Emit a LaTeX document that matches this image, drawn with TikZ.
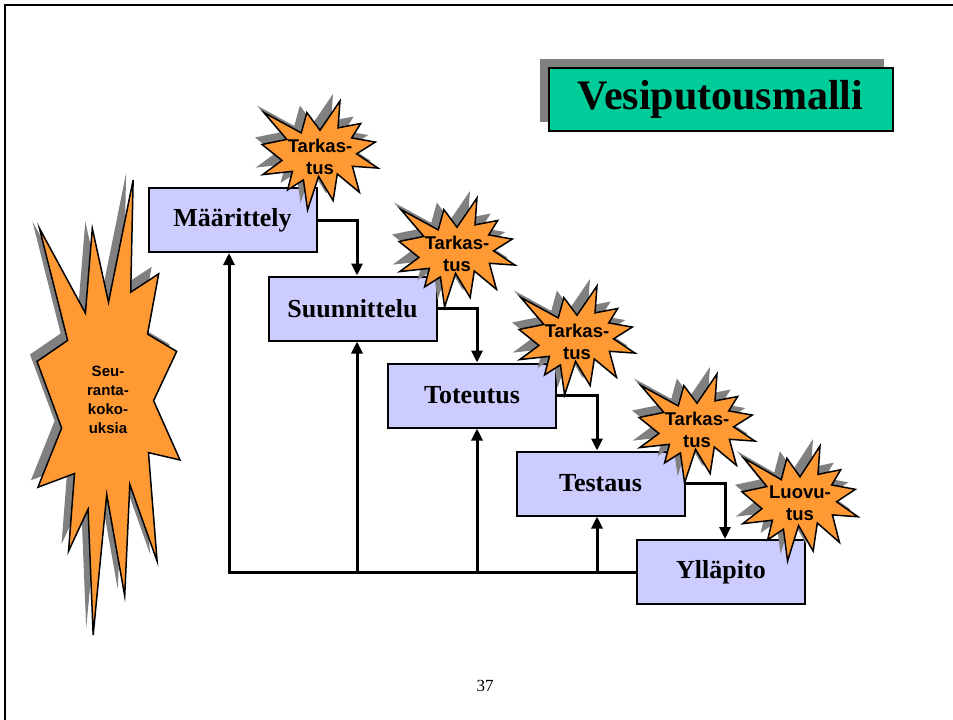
\documentclass[tikz,border=0pt]{standalone}
\usepackage{fontspec}
\setmainfont{Liberation Serif}
\newfontfamily\burstfont{Liberation Sans}
\usetikzlibrary{arrows.meta,shadows}

\definecolor{stagefill}{HTML}{CCCCFF}
\definecolor{burstfill}{HTML}{FF9933}
\definecolor{shadowc}{HTML}{808080}
\definecolor{titlefill}{HTML}{00CC99}

\tikzset{
  stagebox/.style={draw, line width=2pt, fill=stagefill, minimum width=168pt,
    minimum height=64pt, inner sep=0pt, font=\fontsize{26}{30}\selectfont\bfseries},
  titlebox/.style={draw, line width=2pt, fill=titlefill, minimum width=344pt,
    minimum height=63pt, inner sep=0pt, font=\fontsize{42}{46}\selectfont\bfseries,
    general shadow={fill=shadowc, shadow xshift=-9pt, shadow yshift=9pt}},
  flow/.style={line width=3pt, -{Triangle[width=11pt,length=12pt]}},
  bursttext/.style={align=center, inner sep=0pt,
    font=\burstfont\fontsize{18.5}{22}\selectfont\bfseries},
  bigbursttext/.style={align=center, inner sep=0pt,
    font=\burstfont\fontsize{15}{19}\selectfont\bfseries},
  % explosion outline on a 100 x 100 grid
  burstshape/.pic={
    \path[pic actions] (50,26.85) -- (67.23,0) -- (65.53,24.65) -- (85.09,20.63)
      -- (77.32,33.87) -- (97.67,37.67) -- (81.51,48.50) -- (100,61.53)
      -- (77.95,59.92) -- (84.00,83.77) -- (64.91,66.93) -- (61.33,91.38)
      -- (48.76,69.14) -- (39.28,100) -- (35.72,72.35) -- (22.05,81.56)
      -- (26.24,64.52) -- (0.63,67.53) -- (17.23,54.51) -- (0,39.88)
      -- (21.42,35.26) -- (1.71,10.63) -- (33.85,29.26) -- (38.67,10.63) -- cycle;
  },
}
% explosion with its shadow: top-left x, top-left y, width, height
\newcommand\burstat[4]{%
  \pic[fill=shadowc, xscale=#3/100, yscale=#4/100] at (#1-7,#2-7) {burstshape};
  \pic[fill=burstfill, draw, line width=1.5pt, xscale=#3/100, yscale=#4/100] at (#1,#2) {burstshape};
}

\begin{document}
\begin{tikzpicture}[x=1pt, y=-1pt]
\useasboundingbox (0,0) rectangle (953,720);

% phases
\node[stagebox] (maar) at (232.5,220) {Määrittely};
\node[stagebox] (suun) at (352.5,308.5) {Suunnittelu};
\node[stagebox] (tote) at (472,395.5) {Toteutus};
\node[stagebox] (test) at (600.5,483.5) {Testaus};
\node[stagebox] (yll) at (721,572) {Ylläpito};

% junctions on the feedback line
\coordinate (c0) at (229,572);
\coordinate (c1) at (357,572);
\coordinate (c2) at (477,572);
\coordinate (c3) at (597,572);
\coordinate (c4) at (725,572);

% forward flow
\draw[flow] (maar.east) -| (suun.north -| c1);
\draw[flow] (suun.east) -| (tote.north -| c2);
\draw[flow] (tote.east) -| (test.north -| c3);
\draw[flow] (test.east) -| (yll.north -| c4);

% feedback
\draw[flow] (yll.west) -- (c0) -- (maar.south -| c0);
\draw[flow] (c1) -- (suun.south -| c1);
\draw[flow] (c2) -- (tote.south -| c2);
\draw[flow] (c3) -- (test.south -| c3);

% reviews
\burstat{262}{101}{116}{109}
\node[bursttext] (rev1) at (320,157) {Tarkas-\\tus};
\burstat{399}{198}{116}{109}
\node[bursttext] (rev2) at (457,254) {Tarkas-\\tus};
\burstat{519}{286}{116}{109}
\node[bursttext] (rev3) at (577,342) {Tarkas-\\tus};
\burstat{639}{374}{116}{109}
\node[bursttext] (rev4) at (697,430) {Tarkas-\\tus};
\burstat{742}{446}{116}{115}
\node[bursttext] (deliv) at (800,503) {Luovu-\\tus};

% follow-up meetings
\burstat{37}{180}{143}{455}
\node[bigbursttext] (meet) at (108,400) {Seu-\\ranta-\\koko-\\uksia};

% title
\node[titlebox] (title) at (720.5,99.5) {Vesiputousmalli};

% page frame and number
\draw[line width=2pt] (953,5) -- (5,5) -- (5,720);
\node[font=\fontsize{17}{19}\selectfont] (page) at (485,686) {37};
\end{tikzpicture}
\end{document}
